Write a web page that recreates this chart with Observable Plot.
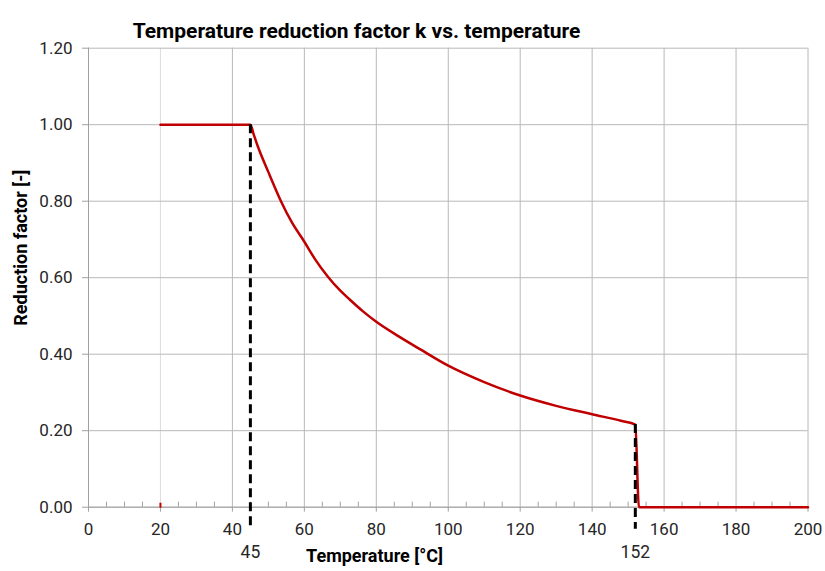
<!DOCTYPE html>
<html>
<head>
<meta charset="utf-8">
<script src="https://cdn.jsdelivr.net/npm/d3@7"></script>
<script src="https://cdn.jsdelivr.net/npm/@observablehq/plot@0.6"></script>
<style>
  html, body { margin: 0; padding: 0; background: #fff; }
  #chart svg { display: block; font-family: Roboto, "Noto Sans", sans-serif; }
</style>
</head>
<body>
<div id="chart"></div>
<script>
// ---- data ----
const temperature = [20, 45, 46, 47, 50, 53.5, 56.5, 60, 63, 66.6, 70, 72.6, 76.3, 80, 86, 92, 100, 110, 120, 130, 140, 148, 152, 153, 200];
const reduction   = [1.0, 1.0, 0.972, 0.945, 0.876, 0.80, 0.745, 0.694, 0.648, 0.602, 0.566, 0.543, 0.512, 0.485, 0.448, 0.414, 0.370, 0.327, 0.292, 0.265, 0.243, 0.226, 0.216, 0.0, 0.0];
const markerTemps = [45, 152];
const markerK = [1.0, 0.216];
const xTicks = [0, 20, 40, 60, 80, 100, 120, 140, 160, 180, 200];
const xMinorTicks = [5, 10, 15, 25, 30, 35, 45, 50, 55, 65, 70, 75, 85, 90, 95, 105, 110, 115, 125, 130, 135, 145, 150, 155, 165, 170, 175, 185, 190, 195];
const yTicks = [0, 0.2, 0.4, 0.6, 0.8, 1.0, 1.2];
const startTemp = 20;
const titleText = "Temperature reduction factor k vs. temperature";
const xLabel = "Temperature [°C]";
const yLabel = "Reduction factor [-]";

const curve = temperature.map((t, i) => ({t, k: reduction[i]}));
const markers = markerTemps.map((t, i) => ({t, k: markerK[i]}));

const gridColor = "#b8b8b8";
const red = "#c00000";

const chart = Plot.plot({
  width: 825,
  height: 571,
  marginLeft: 88,
  marginRight: 17.5,
  marginTop: 47.7,
  marginBottom: 64.3,
  style: {fontFamily: "Roboto, 'Noto Sans', sans-serif", background: "#fff"},
  x: {domain: [0, 200]},
  y: {domain: [0, 1.2]},
  marks: [
    Plot.gridX(xTicks, {stroke: d => d === startTemp ? "#dcdcdc" : gridColor, strokeOpacity: 1, strokeWidth: 1}),
    Plot.gridY(yTicks, {stroke: gridColor, strokeOpacity: 1, strokeWidth: 1}),
    // axis lines
    Plot.ruleY([0], {stroke: "#a0a0a0", strokeWidth: 1}),
    Plot.ruleX([0], {stroke: "#a0a0a0", strokeWidth: 1}),
    // minor ticks pointing up
    Plot.ruleX(xMinorTicks, {x: d => d, y1: 0, y2: 0, insetTop: -5, stroke: "#a0a0a0", strokeWidth: 1}),
    Plot.axisX(xTicks, {tickSize: 5, tickPadding: 11, fontSize: 17, fill: "#262626", stroke: "#a0a0a0", tickFormat: d => String(d), label: null}),
    Plot.axisY(yTicks, {tickSize: 6, tickPadding: 10, fontSize: 17, fill: "#262626", stroke: "#a0a0a0", tickFormat: d => d.toFixed(2), label: null}),
    // small red mark at the start temperature
    Plot.ruleX([startTemp], {x: d => d, y1: 0, y2: 0, insetTop: -4, insetBottom: -1, stroke: red, strokeWidth: 2}),
    // curve
    Plot.line(curve, {x: "t", y: "k", stroke: red, strokeWidth: 2.5, strokeLinejoin: "round", curve: "monotone-x"}),
    // dashed markers
    Plot.ruleX(markers, {x: "t", y1: "k", y2: 0, insetBottom: -22, stroke: "#000", strokeWidth: 3, strokeDasharray: "9,5"}),
    Plot.text(markers, {x: "t", y: 0, text: d => String(d.t), dy: 45, fontSize: 17.5, fill: "#262626", textAnchor: "middle"}),
    // titles
    Plot.text([titleText], {text: d => d, frameAnchor: "top-left", dx: 268, dy: -25, fontSize: 21, fontWeight: "bold", fill: "#000", textAnchor: "middle"}),
    Plot.text([xLabel], {text: d => d, frameAnchor: "bottom-left", dx: 286, dy: 55, fontSize: 18, fontWeight: "bold", fill: "#000", textAnchor: "middle"}),
    Plot.text([yLabel], {text: d => d, frameAnchor: "left", rotate: -90, dx: -67, dy: -30, fontSize: 18, fontWeight: "bold", fill: "#000", textAnchor: "middle"})
  ]
});
document.getElementById("chart").appendChild(chart);
</script>
</body>
</html>
